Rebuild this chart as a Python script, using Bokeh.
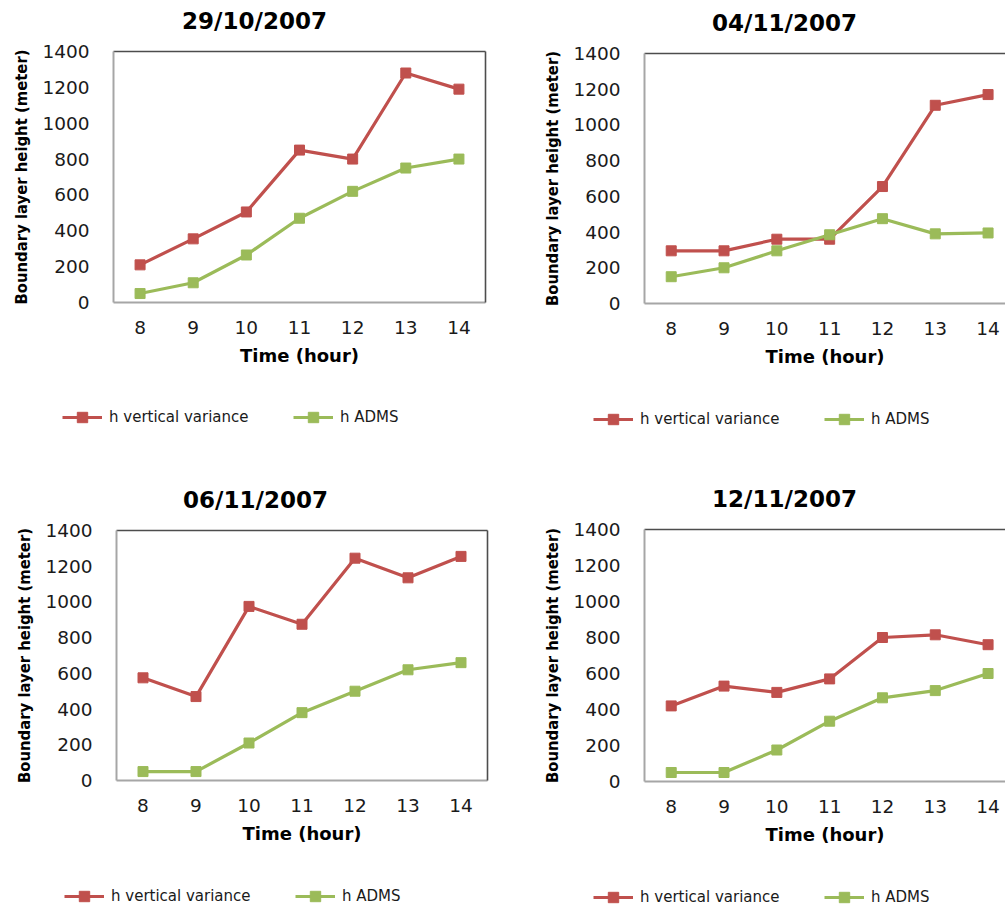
from bokeh.plotting import figure
from bokeh.layouts import column, row
from bokeh.models import (Range1d, FixedTicker, LinearAxis, Legend, LegendItem, Label)
from bokeh.embed import file_html
from bokeh.resources import INLINE

# Hours of the day
hours = [8, 9, 10, 11, 12, 13, 14]

# Boundary layer height (m) per day
dates = ["29/10/2007", "04/11/2007", "06/11/2007", "12/11/2007"]
h_var_2910 = [210, 355, 505, 850, 800, 1280, 1190]
h_adms_2910 = [50, 110, 265, 470, 620, 750, 800]
h_var_0411 = [295, 295, 360, 360, 655, 1110, 1170]
h_adms_0411 = [150, 200, 295, 385, 475, 390, 395]
h_var_0611 = [575, 470, 975, 875, 1245, 1135, 1255]
h_adms_0611 = [50, 50, 210, 380, 500, 620, 660]
h_var_1211 = [420, 530, 495, 570, 800, 815, 760]
h_adms_1211 = [50, 50, 175, 335, 465, 505, 600]

y_ticks = [0, 200, 400, 600, 800, 1000, 1200, 1400]
series_names = ["h vertical variance", "h ADMS"]

RED = "#C0504D"
GREEN = "#9BBB59"
TICK_FONT = "DejaVu Sans"
AXIS_LABEL_FONT = "'DejaVu Sans Condensed', 'Liberation Sans Narrow', Roboto"


def strip(width, height):
    # blank figure whose frame fills the whole area, used for headings and keys
    q = figure(width=width, height=height, output_backend="svg", toolbar_location=None,
               x_range=Range1d(0, 1), y_range=Range1d(0, 1),
               x_axis_location=None, y_axis_location=None,
               min_border=0, outline_line_color=None, frame_align=False,
               background_fill_color="white", border_fill_color="white")
    q.grid.visible = False
    return q


def border_axis(color):
    return LinearAxis(ticker=FixedTicker(ticks=[]), major_label_text_font_size="0px",
                      major_label_standoff=0, major_tick_in=0, major_tick_out=0,
                      minor_tick_in=0, minor_tick_out=0,
                      axis_line_color=color, axis_line_width=1.6)


def series_style(p, xs, ys, color):
    ln = p.line(xs, ys, line_color=color, line_width=3.2)
    mk = p.scatter(xs, ys, marker="square", size=10, fill_color=color, line_color=color)
    return [ln, mk]


def panel(var, adms, width, height, left, right, top, bottom, x_start, x_end, right_side):
    p = figure(width=width, height=height, output_backend="svg", toolbar_location=None,
               x_range=Range1d(x_start, x_end), y_range=Range1d(0, 1400),
               min_border_left=left, min_border_right=right,
               min_border_top=top, min_border_bottom=bottom,
               background_fill_color="white", border_fill_color="white")
    p.outline_line_color = None
    p.grid.visible = False

    for ax in (p.xaxis[0], p.yaxis[0]):
        ax.axis_line_color = "#a6a6a6"
        ax.axis_line_width = 2
        ax.major_tick_in = 0
        ax.major_tick_out = 0
        ax.minor_tick_in = 0
        ax.minor_tick_out = 0
        ax.major_label_text_font = TICK_FONT
        ax.major_label_text_font_size = "18.5px"
        ax.major_label_text_color = "#1a1a1a"
        ax.axis_label_text_font_style = "bold"
        ax.axis_label_text_color = "#000000"

    p.xaxis.ticker = FixedTicker(ticks=hours)
    p.yaxis.ticker = FixedTicker(ticks=y_ticks)
    p.xaxis.major_label_standoff = 18
    p.yaxis.major_label_standoff = 24
    p.xaxis.axis_label = "Time (hour)"
    p.xaxis.axis_label_text_font = TICK_FONT
    p.xaxis.axis_label_text_font_size = "18px"
    p.xaxis.axis_label_standoff = 8
    p.yaxis.axis_label = "Boundary layer height (meter)"
    p.yaxis.axis_label_text_font = AXIS_LABEL_FONT
    p.yaxis.axis_label_text_font_size = "16.5px"
    p.yaxis.axis_label_standoff = 8

    # darker plot-area border along the top (and the right where it is visible)
    p.add_layout(border_axis("#4d4d4d"), "above")
    if not right_side:
        p.add_layout(border_axis("#4d4d4d"), "right")

    series_style(p, hours, var, RED)
    series_style(p, hours, adms, GREEN)
    return p


def heading(text, width, height, cx, cy):
    q = strip(width, height)
    q.add_layout(Label(x=cx, y=cy, x_units="screen", y_units="screen", text=text,
                       text_align="center", text_baseline="middle",
                       text_font=TICK_FONT, text_font_style="bold",
                       text_font_size="23px", text_color="#000000"))
    return q


def key(var, adms, width, height, vx, vy):
    # key for the two series; the series themselves fall outside this strip's ranges
    q = strip(width, height)
    red_r = series_style(q, hours, var, RED)
    green_r = series_style(q, hours, adms, GREEN)
    lg = Legend(items=[LegendItem(label=series_names[0], renderers=red_r),
                       LegendItem(label=series_names[1], renderers=green_r)],
                location=(vx, vy), orientation="horizontal",
                padding=0, margin=0, spacing=0, border_line_color=None,
                background_fill_alpha=0, glyph_width=40, glyph_height=26,
                label_height=26, label_width=184, label_standoff=7,
                label_text_font=TICK_FONT, label_text_font_size="15px",
                label_text_color="#1a1a1a")
    q.add_layout(lg)
    return q


t1 = heading(dates[0], 500, 36, 254, 16)
t2 = heading(dates[1], 505, 36, 284, 14)
t3 = heading(dates[2], 500, 64, 255, 15)
t4 = heading(dates[3], 505, 64, 284, 16)

p1 = panel(h_var_2910, h_adms_2910, 500, 354, 113, 15, 15, 88, 7.5, 14.5, False)
p2 = panel(h_var_0411, h_adms_0411, 505, 354, 144, 0, 17, 87, 7.494, 14.33, True)
p3 = panel(h_var_0611, h_adms_0611, 500, 333, 116, 13, 16, 67, 7.5, 14.5, False)
p4 = panel(h_var_1211, h_adms_1211, 505, 333, 144, 0, 15, 66, 7.494, 14.33, True)

k1 = key(h_var_2910, h_adms_2910, 500, 60, 62, 20)
k2 = key(h_var_0411, h_adms_0411, 505, 60, 93, 18)
k3 = key(h_var_0611, h_adms_0611, 500, 60, 64, -2)
k4 = key(h_var_1211, h_adms_1211, 505, 60, 93, -3)

layout = column(row(column(t1, p1, k1), column(t2, p2, k2)),
                row(column(t3, p3, k3), column(t4, p4, k4)))
open("out.html", "w").write(file_html(layout, INLINE))
